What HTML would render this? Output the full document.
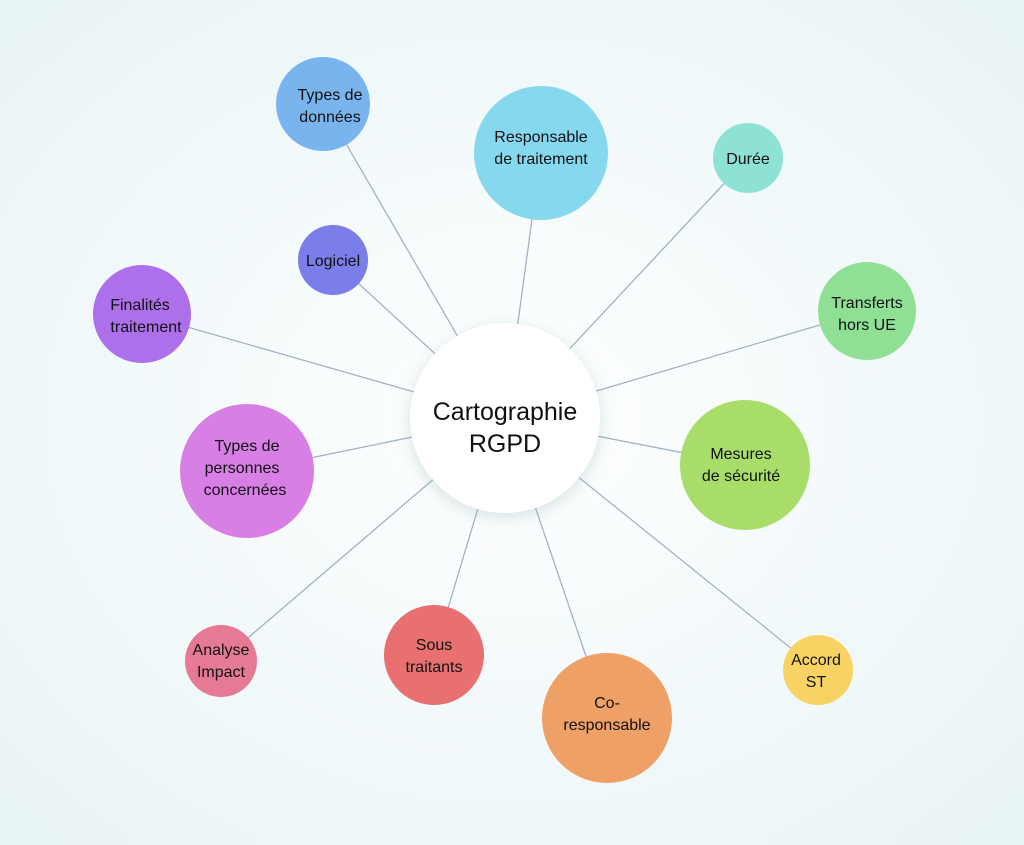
<!DOCTYPE html>
<html><head><meta charset="utf-8"><style>
html,body{margin:0;padding:0;}
body{width:1024px;height:840px;overflow:hidden;background:radial-gradient(ellipse at 50% 50%,#ffffff 0%,#f4fafb 45%,#e8f3f6 100%);font-family:"Liberation Sans",sans-serif;}
</style></head><body>
<svg width="1024" height="840" xmlns="http://www.w3.org/2000/svg">
<defs><filter id="sh" x="-30%" y="-30%" width="160%" height="160%"><feDropShadow dx="0" dy="4" stdDeviation="8" flood-color="#8aa" flood-opacity="0.35"/></filter></defs>
<g stroke="#a3b3c2" stroke-width="1.3">
<line x1="505" y1="418" x2="323" y2="104"/>
<line x1="505" y1="418" x2="541" y2="153"/>
<line x1="505" y1="418" x2="748" y2="158"/>
<line x1="505" y1="418" x2="333" y2="260"/>
<line x1="505" y1="418" x2="142" y2="314"/>
<line x1="505" y1="418" x2="867" y2="311"/>
<line x1="505" y1="418" x2="247" y2="471"/>
<line x1="505" y1="418" x2="745" y2="465"/>
<line x1="505" y1="418" x2="221" y2="661"/>
<line x1="505" y1="418" x2="434" y2="655"/>
<line x1="505" y1="418" x2="607" y2="718"/>
<line x1="505" y1="418" x2="818" y2="670"/>
</g>
<circle cx="505" cy="418" r="95" fill="#fff" filter="url(#sh)"/>
<circle cx="323" cy="104" r="47" fill="#7ab4ee"/>
<circle cx="541" cy="153" r="67" fill="#86d8ee"/>
<circle cx="748" cy="158" r="35" fill="#8ee2d4"/>
<circle cx="333" cy="260" r="35" fill="#7b7de8"/>
<circle cx="142" cy="314" r="49" fill="#ad70ea"/>
<circle cx="867" cy="311" r="49" fill="#8fdf95"/>
<circle cx="247" cy="471" r="67" fill="#d87fe6"/>
<circle cx="745" cy="465" r="65" fill="#a8dd6a"/>
<circle cx="221" cy="661" r="36" fill="#e67a95"/>
<circle cx="434" cy="655" r="50" fill="#e87070"/>
<circle cx="607" cy="718" r="65" fill="#eea066"/>
<circle cx="818" cy="670" r="35" fill="#f8d364"/>
<g font-size="16" fill="#111" text-anchor="middle" font-family="Liberation Sans, sans-serif">
<text x="505" y="420" font-size="25">Cartographie</text>
<text x="505" y="452" font-size="25">RGPD</text>
<text x="330" y="100">Types de</text><text x="330" y="122">données</text>
<text x="541" y="142">Responsable</text><text x="541" y="164">de traitement</text>
<text x="748" y="164">Durée</text>
<text x="333" y="266">Logiciel</text>
<text x="140" y="310">Finalités</text><text x="146" y="332">traitement</text>
<text x="867" y="308">Transferts</text><text x="867" y="330">hors UE</text>
<text x="247" y="451">Types de</text><text x="242" y="473">personnes</text><text x="245" y="495">concernées</text>
<text x="741" y="459">Mesures</text><text x="741" y="481">de sécurité</text>
<text x="221" y="655">Analyse</text><text x="221" y="677">Impact</text>
<text x="434" y="650">Sous</text><text x="434" y="672">traitants</text>
<text x="607" y="708">Co-</text><text x="607" y="730">responsable</text>
<text x="816" y="665">Accord</text><text x="816" y="687">ST</text>
</g>
</svg>
</body></html>
